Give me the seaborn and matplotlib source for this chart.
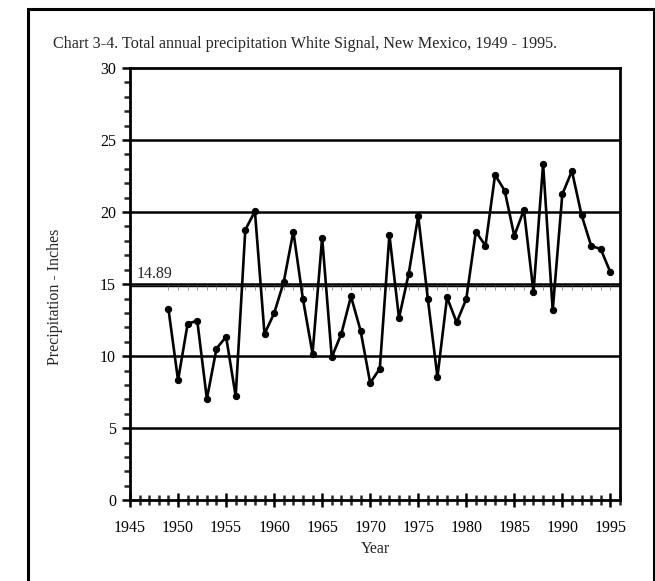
import numpy as np
import pandas as pd
import matplotlib
matplotlib.use("Agg")
import matplotlib.pyplot as plt
from matplotlib.patches import Rectangle
from matplotlib.ticker import MultipleLocator
import seaborn as sns

# Total annual precipitation, White Signal NM (inches)
years = list(range(1949, 1996))
precip = [13.27, 8.33, 12.25, 12.46, 7.03, 10.52, 11.35, 7.22, 18.76, 20.06,
          11.54, 12.97, 15.14, 18.65, 13.96, 10.17, 18.23, 9.92, 11.56, 14.15,
          11.77, 8.14, 9.13, 18.42, 12.64, 15.69, 19.73, 13.98, 8.56, 14.08,
          12.34, 13.96, 18.65, 17.66, 22.58, 21.49, 18.35, 20.15, 14.45, 23.34,
          13.18, 21.24, 22.85, 19.80, 17.66, 17.43, 15.83]
mean_value = 14.89
grid_levels = [5, 10, 15, 20, 25]

title = "Chart 3-4. Total annual precipitation White Signal, New Mexico, 1949 - 1995."

sns.set_style("ticks")
plt.rcParams['font.family'] = ['Liberation Serif', 'DejaVu Serif']

frame = pd.DataFrame({"Year": years, "Precip": precip})

fig = plt.figure(figsize=(6.55, 5.81), dpi=100)
ax = fig.add_axes([0.1985, 0.139, 0.748, 0.744])

# outer border of the figure
fig.patches.append(Rectangle((0.043, -0.01), 0.955, 0.995, transform=fig.transFigure,
                             fill=False, edgecolor="black", linewidth=2.2))

for g in grid_levels:
    ax.axhline(g, color="black", lw=1.8, zorder=1)

# mean line with small tick marks at each year
ax.axhline(mean_value, color="black", lw=1.0, zorder=1)
ax.plot(years, [mean_value] * len(years), ls="none", marker=3, ms=3,
        mew=0.6, color="#888888", zorder=1)
ax.text(1945.7, mean_value + 0.25, "%.2f" % mean_value, fontsize=11.5,
        ha="left", va="bottom")

sns.lineplot(data=frame, x="Year", y="Precip", ax=ax, color="black", lw=1.9,
             marker="o", markersize=4.5, markeredgecolor="black", zorder=3)

ax.set_xlim(1945, 1996)
ax.set_ylim(0, 30)
ax.xaxis.set_major_locator(MultipleLocator(5))
ax.xaxis.set_minor_locator(MultipleLocator(1))
ax.yaxis.set_major_locator(MultipleLocator(5))
ax.yaxis.set_minor_locator(MultipleLocator(1))
ax.tick_params(axis="x", which="major", direction="inout", length=10, width=1.8,
               labelsize=11.5, pad=9, colors="black")
ax.tick_params(axis="x", which="minor", direction="inout", length=7, width=1.8)
ax.tick_params(axis="y", which="major", direction="out", length=6, width=1.8,
               labelsize=11.5, pad=4, colors="black")
ax.tick_params(axis="y", which="minor", direction="out", length=4, width=1.8)

for s in ax.spines.values():
    s.set_linewidth(2.0)
    s.set_color("black")

ax.set_xlabel("Year", fontsize=11.5)
ax.set_ylabel("Precipitation - Inches", fontsize=11.5)
ax.yaxis.set_label_coords(-0.137, 0.47)
ax.xaxis.set_label_coords(0.5, -0.095)

fig.text(0.081, 0.918, title, fontsize=11.6, ha="left", va="baseline")

fig.savefig("out.png", dpi=100)
